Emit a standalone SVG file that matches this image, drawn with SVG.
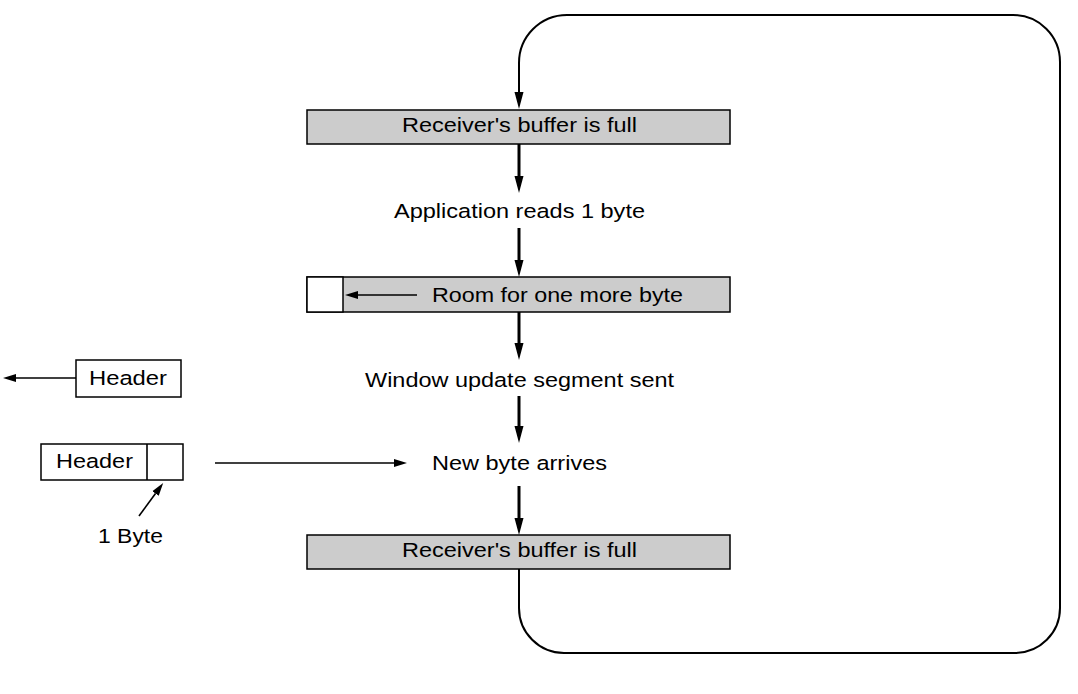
<svg xmlns="http://www.w3.org/2000/svg" width="1078" height="694" viewBox="0 0 1078 694">
<style>
.box{fill:#cccccc;stroke:#000;stroke-width:1.5}
.wbox{fill:#fff;stroke:#000;stroke-width:1.5}
.t{font-family:"Liberation Sans",Arial,Helvetica,sans-serif;font-size:20.5px;fill:#000}
.thick{stroke:#000;stroke-width:3;fill:none}
.thin{stroke:#000;stroke-width:1.6;fill:none}
.loop{stroke:#000;stroke-width:2;fill:none}
</style>
<defs>
<marker id="ah" markerUnits="userSpaceOnUse" markerWidth="20" markerHeight="12" viewBox="0 -6 20 12" refX="0" refY="0" orient="auto">
<path d="M0,-4.5 L17,0 L0,4.5 z" fill="#000"/>
</marker>
<marker id="ahs" markerUnits="userSpaceOnUse" markerWidth="16" markerHeight="10" viewBox="0 -5 16 10" refX="0" refY="0" orient="auto">
<path d="M0,-4 L13,0 L0,4 z" fill="#000"/>
</marker>
</defs>
<rect width="1078" height="694" fill="#fff"/>
<g id="full1">
<rect class="box" x="307" y="110" width="423" height="34"/>
<text class="t" x="402" y="132" textLength="235" lengthAdjust="spacingAndGlyphs">Receiver's buffer is full</text>
</g>
<g id="appread">
<text class="t" x="394" y="218" textLength="251" lengthAdjust="spacingAndGlyphs">Application reads 1 byte</text>
</g>
<g id="room">
<rect class="box" x="307" y="277" width="423" height="35"/>
<rect class="wbox" x="307" y="277" width="36" height="35"/>
<text class="t" x="432" y="302" textLength="251" lengthAdjust="spacingAndGlyphs">Room for one more byte</text>
</g>
<g id="winupd">
<text class="t" x="365" y="387" textLength="309" lengthAdjust="spacingAndGlyphs">Window update segment sent</text>
</g>
<g id="newbyte">
<text class="t" x="432" y="470" textLength="175" lengthAdjust="spacingAndGlyphs">New byte arrives</text>
</g>
<g id="full2">
<rect class="box" x="307" y="535" width="423" height="34"/>
<text class="t" x="402" y="557" textLength="235" lengthAdjust="spacingAndGlyphs">Receiver's buffer is full</text>
</g>
<g id="header1">
<rect class="wbox" x="76" y="360" width="105" height="37"/>
<text class="t" x="89" y="385" textLength="78" lengthAdjust="spacingAndGlyphs">Header</text>
</g>
<g id="header2">
<rect class="wbox" x="41" y="444" width="142" height="36"/>
<line class="thin" x1="147" y1="444" x2="147" y2="480"/>
<text class="t" x="56" y="468" textLength="77" lengthAdjust="spacingAndGlyphs">Header</text>
</g>
<g id="onebyte">
<text class="t" x="98" y="543" textLength="65" lengthAdjust="spacingAndGlyphs">1 Byte</text>
</g>
<g id="connectors">
<path class="loop" d="M519,569 L519,608 A45,45 0 0 0 564,653 L1015,653 A45,45 0 0 0 1060,608 L1060,62 A47,47 0 0 0 1013,15 L567,15 A48,48 0 0 0 519,63 L519,92" marker-end="url(#ah)"/>
<line class="thick" x1="519" y1="144" x2="519" y2="176" marker-end="url(#ah)"/>
<line class="thick" x1="519" y1="228" x2="519" y2="260" marker-end="url(#ah)"/>
<line class="thick" x1="519" y1="312" x2="519" y2="343" marker-end="url(#ah)"/>
<line class="thick" x1="519" y1="396" x2="519" y2="426" marker-end="url(#ah)"/>
<line class="thick" x1="519" y1="486" x2="519" y2="518" marker-end="url(#ah)"/>
<line class="thin" x1="417" y1="295" x2="358" y2="295" marker-end="url(#ahs)"/>
<line class="thin" x1="76" y1="378" x2="16" y2="378" marker-end="url(#ahs)"/>
<line class="thin" x1="215" y1="463" x2="394" y2="463" marker-end="url(#ahs)"/>
<line class="thin" x1="139" y1="516" x2="155.5" y2="493.5" marker-end="url(#ahs)"/>
</g>
</svg>
